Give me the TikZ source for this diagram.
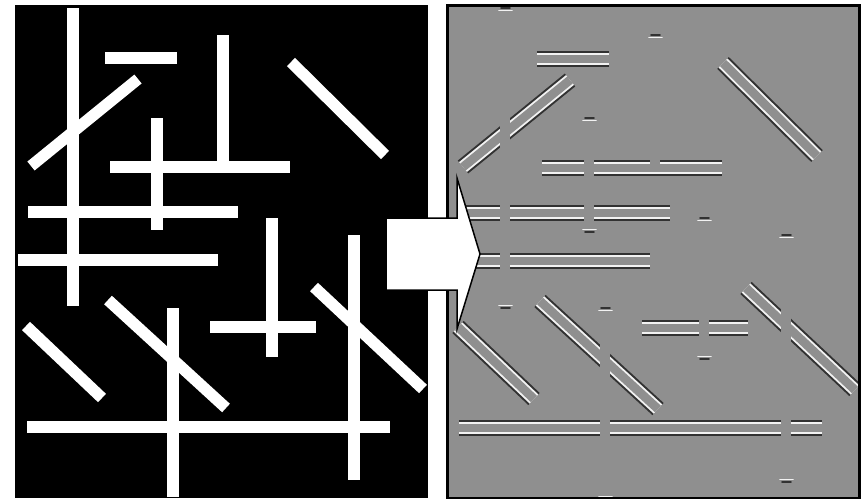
\documentclass[tikz,border=0pt]{standalone}
\usepackage{tikz}
\usetikzlibrary{calc}
\usepackage{xcolor}

\definecolor{embgray}{RGB}{143,143,143}
\definecolor{embdark}{RGB}{50,50,50}
\definecolor{emblight}{RGB}{242,242,242}

% bars that are not upright: x1/y1/x2/y2 (pixel grid, y downwards)
\newcommand{\slantbars}{105/58/177/58, 110/167/290/167, 28/212/238/212,
  18/260/218/260, 210/327/316/327, 27/427/390/427,
  138/79/31/166, 291/62/385/155, 26/326/102/398,
  108/300/226/408, 314/287/423/389}
% upright bars: x/ytop/ybottom/bottom-cap flag
\newcommand{\uprights}{73/8/306/1, 223/35/163/0, 157/118/230/1,
  272/218/357/1, 354/235/480/1, 173/308/497/1}

\begin{document}
\begin{tikzpicture}[
  x=1pt, y=-1pt,
  wbar/.style={draw=white, line width=11.5pt},
  edgedark/.style={draw=embdark, line width=2pt, double=embgray,
                   double distance=12.6pt},
  edgelight/.style={draw=emblight, line width=1.8pt, double=embgray,
                    double distance=8.8pt},
  gapfill/.style={fill=embgray},
  capdark/.style={draw=embdark, line width=1.6pt, line cap=round},
  caplight/.style={draw=emblight, line width=1.6pt, line cap=round},
  panel/.style={draw=black, line width=2.3pt},
  arr/.style={draw=black, fill=white, line width=1.5pt, line join=miter},
]
\useasboundingbox[fill=white] (0,0) rectangle (865,499);

%% Left panel: binary image
\fill[black] (15,5) rectangle (428,498);
\foreach \xa/\ya/\xb/\yb in \slantbars
  \draw[wbar] (\xa,\ya) -- (\xb,\yb);
\foreach \x/\ya/\yb/\f in \uprights
  \draw[wbar] (\x,\ya) -- (\x,\yb);

%% Right panel: filtered image
\begin{scope}
  \clip (447.5,5.5) rectangle (859.5,497.8);
  \fill[embgray] (447.5,5.5) rectangle (859.5,497.8);
  \begin{scope}[xshift=432pt, yshift=-1pt]
    % edges of the flat and slanted bars
    \foreach \xa/\ya/\xb/\yb in \slantbars {
      \draw[edgedark] (\xa,\ya) -- (\xb,\yb);
      \draw[edgelight] (\xa,\ya) -- (\xb,\yb);
    }
    % upright bars give no response, only at their ends
    \foreach \x/\ya/\yb/\f in \uprights {
      \fill[gapfill] (\x-5,\ya) rectangle (\x+5,\yb+0.5);
      \draw[capdark] (\x-4,\ya-1) -- (\x+5,\ya-1);
      \draw[caplight] (\x-6,\ya+1.5) -- (\x+7,\ya+1.5);
      \ifnum\f=1
        \draw[caplight] (\x-6,\yb-1.5) -- (\x+7,\yb-1.5);
        \draw[capdark] (\x-4,\yb+1) -- (\x+5,\yb+1);
      \fi
    }
  \end{scope}
\end{scope}
\draw[panel] (447.5,5.5) rectangle (859.5,497.8);

%% Arrow between panels
\draw[arr] (386,218) -- (457,218) -- (457,178) -- (480,254)
  -- (457,329) -- (457,290) -- (386,290) -- cycle;

\end{tikzpicture}
\end{document}
